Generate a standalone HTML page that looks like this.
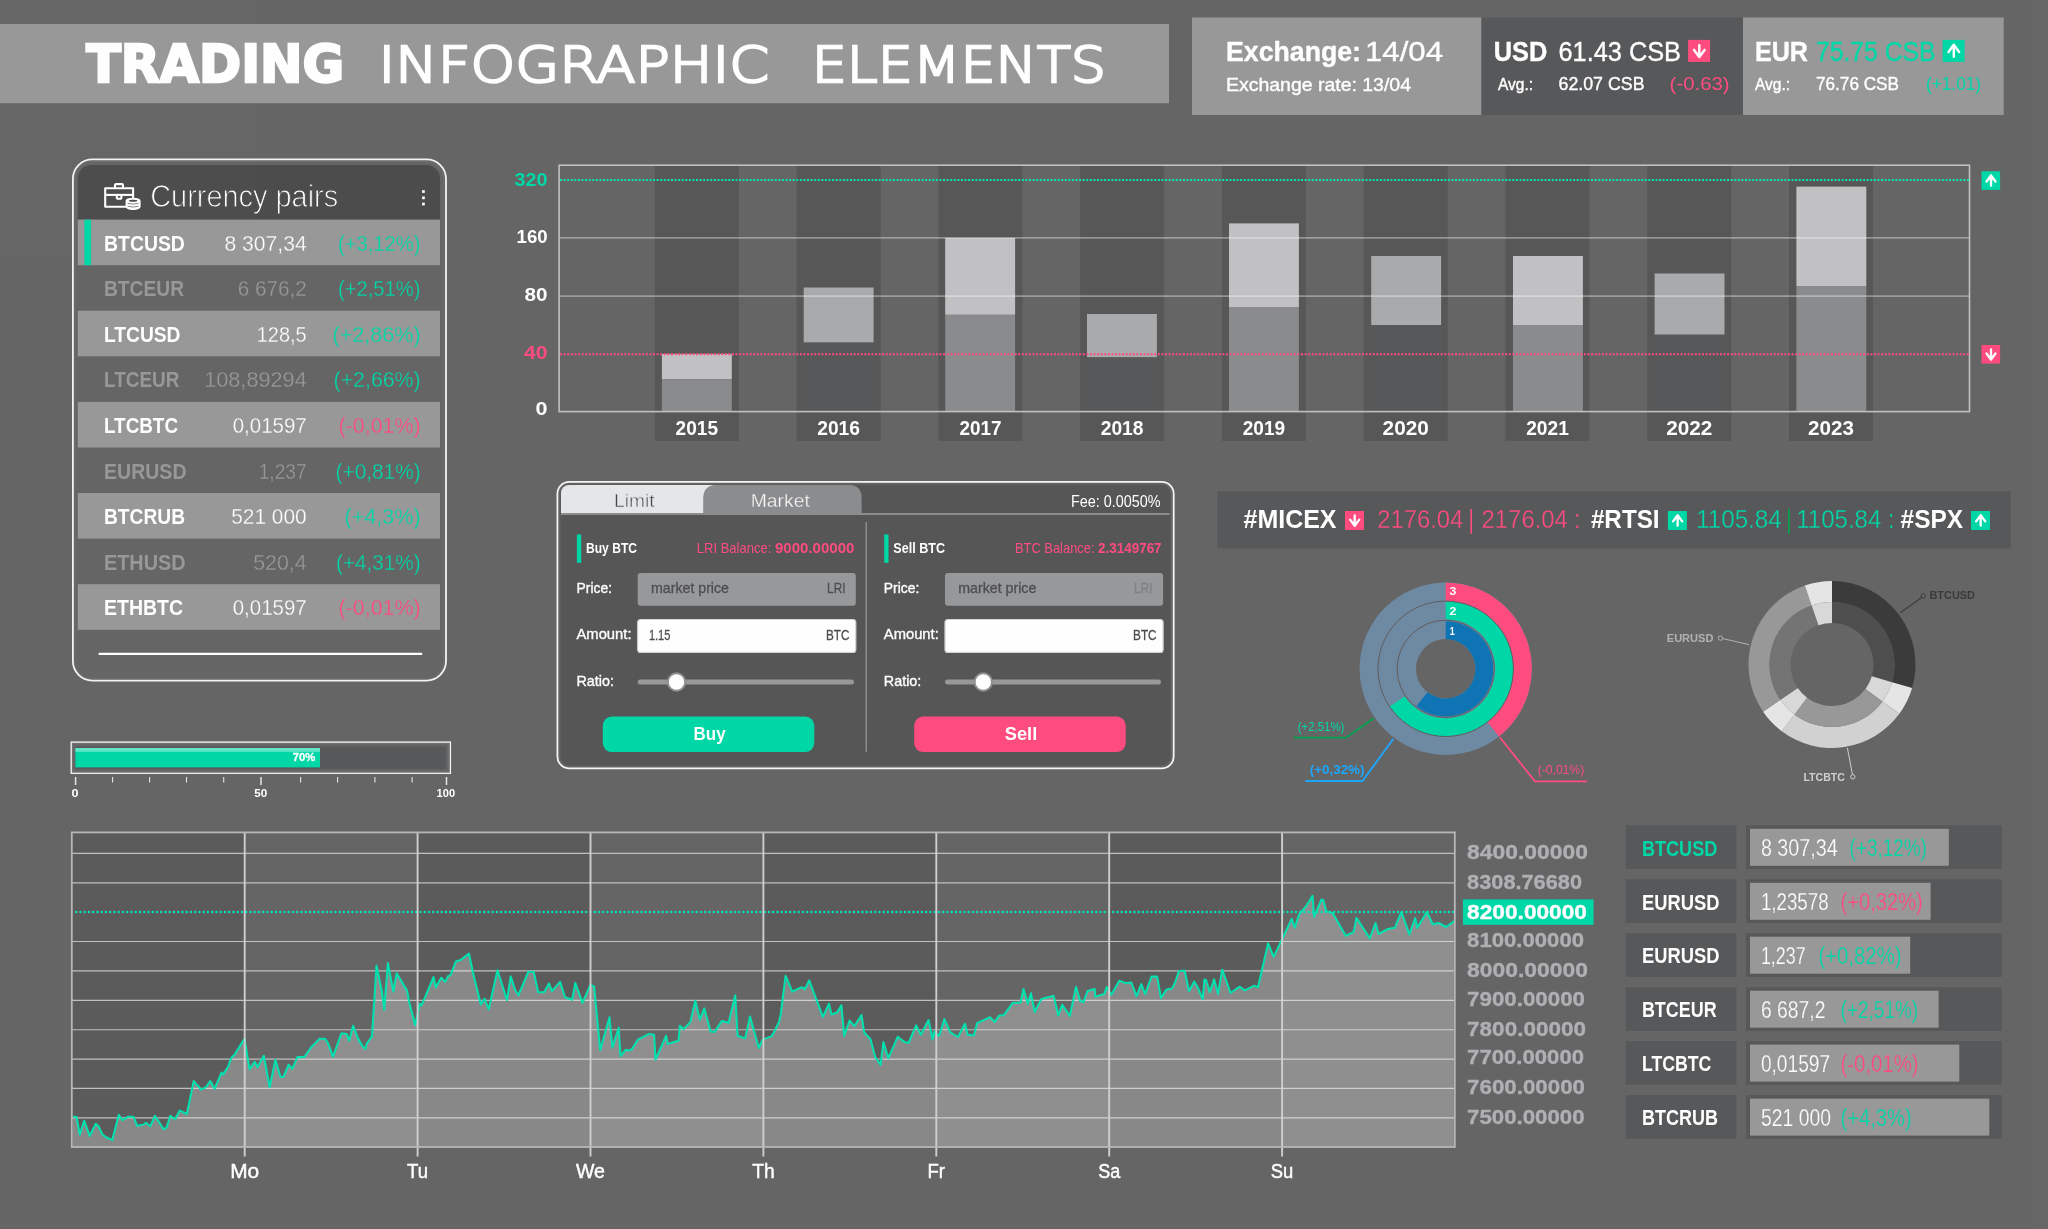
<!DOCTYPE html>
<html lang="en"><head><meta charset="utf-8"><title>Trading Infographic Elements</title>
<style>
html,body{margin:0;padding:0;background:#666666;overflow:hidden}
svg{display:block;opacity:0.9999;will-change:transform}
.l{font-family:"Liberation Sans",sans-serif}
.d{font-family:"DejaVu Sans","Liberation Sans",sans-serif}
.dl{font-family:"DejaVu Sans Light","DejaVu Sans","Liberation Sans",sans-serif;font-weight:200}
text{white-space:pre}
</style></head><body>
<svg width="2048" height="1229" viewBox="0 0 2048 1229">
<rect width="2048" height="1229" fill="#666666"/>
<g id="header">
<rect x="0.0" y="24.0" width="1169.0" height="79.2" fill="#999999"/>
<text class="d" x="86.2" y="82.0" font-size="51" fill="#fff" font-weight="700" textLength="258.0" lengthAdjust="spacingAndGlyphs" stroke="#fff" stroke-width="2.4">TRADING</text>
<text class="dl" x="378.4" y="82.0" font-size="50.5" fill="#fff" textLength="390.6" lengthAdjust="spacingAndGlyphs" stroke="#fff" stroke-width="2.5">INFOGRAPHIC</text>
<text class="dl" x="811.8" y="82.0" font-size="50.5" fill="#fff" textLength="294.1" lengthAdjust="spacingAndGlyphs" stroke="#fff" stroke-width="2.5">ELEMENTS</text>
<rect x="1192.0" y="17.5" width="289.5" height="97.5" fill="#999999"/>
<rect x="1481.5" y="17.5" width="261.5" height="97.5" fill="#58595b"/>
<rect x="1743.0" y="17.5" width="260.7" height="97.5" fill="#999999"/>
<text class="l" x="1226.0" y="60.6" font-size="28" fill="#fff" font-weight="700" textLength="135.0" lengthAdjust="spacingAndGlyphs" stroke="#fff" stroke-width="0.4">Exchange:</text>
<text class="l" x="1365.0" y="60.6" font-size="28" fill="#fff" textLength="78.0" lengthAdjust="spacingAndGlyphs" stroke="#fff" stroke-width="0.35">14/04</text>
<text class="l" x="1226.0" y="91.0" font-size="19" fill="#fff" textLength="185.0" lengthAdjust="spacingAndGlyphs" stroke="#fff" stroke-width="0.4">Exchange rate: 13/04</text>
<text class="l" x="1493.7" y="60.6" font-size="28" fill="#fff" font-weight="700" textLength="53.5" lengthAdjust="spacingAndGlyphs" stroke="#fff" stroke-width="0.4">USD</text>
<text class="l" x="1558.5" y="60.6" font-size="28" fill="#fff" textLength="122.5" lengthAdjust="spacingAndGlyphs" stroke="#fff" stroke-width="0.35">61.43 CSB</text>
<rect x="1688.1" y="39.9" width="22.0" height="22.0" fill="#ff4d80"/>
<path d="M1699.30 45.10V56.90M1694.00 49.90L1699.30 57.00L1704.60 49.90" fill="none" stroke="#fff" stroke-width="2.45" stroke-linecap="round" stroke-linejoin="round"/>
<text class="l" x="1498.0" y="90.3" font-size="16" fill="#fff" textLength="35.0" lengthAdjust="spacingAndGlyphs" stroke="#fff" stroke-width="0.4">Avg.:</text>
<text class="l" x="1558.5" y="90.3" font-size="19" fill="#fff" textLength="86.0" lengthAdjust="spacingAndGlyphs" stroke="#fff" stroke-width="0.4">62.07 CSB</text>
<text class="l" x="1669.6" y="90.3" font-size="19" fill="#ff4d80" textLength="60.0" lengthAdjust="spacingAndGlyphs">(-0.63)</text>
<text class="l" x="1755.0" y="60.6" font-size="28" fill="#fff" font-weight="700" textLength="53.0" lengthAdjust="spacingAndGlyphs" stroke="#fff" stroke-width="0.4">EUR</text>
<text class="l" x="1816.0" y="60.6" font-size="28" fill="#00d8a8" textLength="119.5" lengthAdjust="spacingAndGlyphs" stroke="#00d8a8" stroke-width="0.35">75.75 CSB</text>
<rect x="1942.6" y="39.9" width="22.0" height="22.0" fill="#00d8a8"/>
<path d="M1953.80 56.70V44.90M1948.50 51.90L1953.80 44.80L1959.10 51.90" fill="none" stroke="#fff" stroke-width="2.45" stroke-linecap="round" stroke-linejoin="round"/>
<text class="l" x="1755.0" y="90.3" font-size="16" fill="#fff" textLength="35.0" lengthAdjust="spacingAndGlyphs" stroke="#fff" stroke-width="0.4">Avg.:</text>
<text class="l" x="1816.0" y="90.3" font-size="19" fill="#fff" textLength="83.0" lengthAdjust="spacingAndGlyphs" stroke="#fff" stroke-width="0.4">76.76 CSB</text>
<text class="l" x="1926.0" y="90.3" font-size="19" fill="#00d8a8" textLength="55.0" lengthAdjust="spacingAndGlyphs">(+1.01)</text>
</g>
<g id="pairs">
<path d="M77.8 220V178.5a13.5 13.5 0 0 1 13.5-13.5H426.5a13.5 13.5 0 0 1 13.5 13.5V220Z" fill="#4d4d4d"/>
<rect x="77.8" y="219.6" width="362.2" height="45.6" fill="#999999"/>
<text class="l" x="104.0" y="250.7" font-size="22.4" fill="#ffffff" font-weight="700" textLength="80.9" lengthAdjust="spacingAndGlyphs">BTCUSD</text>
<text class="l" x="306.7" y="250.7" font-size="22.5" fill="#ffffff" text-anchor="end" textLength="82.2" lengthAdjust="spacingAndGlyphs" stroke="#999999" stroke-width="0.28">8 307,34</text>
<text class="l" x="420.6" y="250.7" font-size="22.5" fill="#00d8a8" text-anchor="end" textLength="82.7" lengthAdjust="spacingAndGlyphs" stroke="#999999" stroke-width="0.28">(+3,12%)</text>
<text class="l" x="104.0" y="296.3" font-size="22.4" fill="#999999" font-weight="700" textLength="80.0" lengthAdjust="spacingAndGlyphs">BTCEUR</text>
<text class="l" x="306.7" y="296.3" font-size="22.5" fill="#999999" text-anchor="end" textLength="69.0" lengthAdjust="spacingAndGlyphs" stroke="#666666" stroke-width="0.28">6 676,2</text>
<text class="l" x="420.6" y="296.3" font-size="22.5" fill="#00d8a8" text-anchor="end" textLength="82.7" lengthAdjust="spacingAndGlyphs" stroke="#666666" stroke-width="0.28">(+2,51%)</text>
<rect x="77.8" y="310.7" width="362.2" height="45.6" fill="#999999"/>
<text class="l" x="104.0" y="341.8" font-size="22.4" fill="#ffffff" font-weight="700" textLength="76.5" lengthAdjust="spacingAndGlyphs">LTCUSD</text>
<text class="l" x="306.7" y="341.8" font-size="22.5" fill="#ffffff" text-anchor="end" textLength="50.0" lengthAdjust="spacingAndGlyphs" stroke="#999999" stroke-width="0.28">128,5</text>
<text class="l" x="420.6" y="341.8" font-size="22.5" fill="#00d8a8" text-anchor="end" textLength="88.0" lengthAdjust="spacingAndGlyphs" stroke="#999999" stroke-width="0.28">(+2,86%)</text>
<text class="l" x="104.0" y="387.4" font-size="22.4" fill="#999999" font-weight="700" textLength="75.5" lengthAdjust="spacingAndGlyphs">LTCEUR</text>
<text class="l" x="306.7" y="387.4" font-size="22.5" fill="#999999" text-anchor="end" textLength="102.5" lengthAdjust="spacingAndGlyphs" stroke="#666666" stroke-width="0.28">108,89294</text>
<text class="l" x="420.6" y="387.4" font-size="22.5" fill="#00d8a8" text-anchor="end" textLength="87.0" lengthAdjust="spacingAndGlyphs" stroke="#666666" stroke-width="0.28">(+2,66%)</text>
<rect x="77.8" y="401.9" width="362.2" height="45.6" fill="#999999"/>
<text class="l" x="104.0" y="433.0" font-size="22.4" fill="#ffffff" font-weight="700" textLength="74.0" lengthAdjust="spacingAndGlyphs">LTCBTC</text>
<text class="l" x="306.7" y="433.0" font-size="22.5" fill="#ffffff" text-anchor="end" textLength="74.0" lengthAdjust="spacingAndGlyphs" stroke="#999999" stroke-width="0.28">0,01597</text>
<text class="l" x="420.6" y="433.0" font-size="22.5" fill="#ff4d80" text-anchor="end" textLength="82.0" lengthAdjust="spacingAndGlyphs" stroke="#999999" stroke-width="0.28">(-0,01%)</text>
<text class="l" x="104.0" y="478.6" font-size="22.4" fill="#999999" font-weight="700" textLength="82.5" lengthAdjust="spacingAndGlyphs">EURUSD</text>
<text class="l" x="306.7" y="478.6" font-size="22.5" fill="#999999" text-anchor="end" textLength="48.0" lengthAdjust="spacingAndGlyphs" stroke="#666666" stroke-width="0.28">1,237</text>
<text class="l" x="420.6" y="478.6" font-size="22.5" fill="#00d8a8" text-anchor="end" textLength="85.0" lengthAdjust="spacingAndGlyphs" stroke="#666666" stroke-width="0.28">(+0,81%)</text>
<rect x="77.8" y="493.0" width="362.2" height="45.6" fill="#999999"/>
<text class="l" x="104.0" y="524.1" font-size="22.4" fill="#ffffff" font-weight="700" textLength="81.0" lengthAdjust="spacingAndGlyphs">BTCRUB</text>
<text class="l" x="306.7" y="524.1" font-size="22.5" fill="#ffffff" text-anchor="end" textLength="75.5" lengthAdjust="spacingAndGlyphs" stroke="#999999" stroke-width="0.28">521 000</text>
<text class="l" x="420.6" y="524.1" font-size="22.5" fill="#00d8a8" text-anchor="end" textLength="76.0" lengthAdjust="spacingAndGlyphs" stroke="#999999" stroke-width="0.28">(+4,3%)</text>
<text class="l" x="104.0" y="569.7" font-size="22.4" fill="#999999" font-weight="700" textLength="81.5" lengthAdjust="spacingAndGlyphs">ETHUSD</text>
<text class="l" x="306.7" y="569.7" font-size="22.5" fill="#999999" text-anchor="end" textLength="53.5" lengthAdjust="spacingAndGlyphs" stroke="#666666" stroke-width="0.28">520,4</text>
<text class="l" x="420.6" y="569.7" font-size="22.5" fill="#00d8a8" text-anchor="end" textLength="84.5" lengthAdjust="spacingAndGlyphs" stroke="#666666" stroke-width="0.28">(+4,31%)</text>
<rect x="77.8" y="584.2" width="362.2" height="45.6" fill="#999999"/>
<text class="l" x="104.0" y="615.3" font-size="22.4" fill="#ffffff" font-weight="700" textLength="79.0" lengthAdjust="spacingAndGlyphs">ETHBTC</text>
<text class="l" x="306.7" y="615.3" font-size="22.5" fill="#ffffff" text-anchor="end" textLength="74.0" lengthAdjust="spacingAndGlyphs" stroke="#999999" stroke-width="0.28">0,01597</text>
<text class="l" x="420.6" y="615.3" font-size="22.5" fill="#ff4d80" text-anchor="end" textLength="82.0" lengthAdjust="spacingAndGlyphs" stroke="#999999" stroke-width="0.28">(-0,01%)</text>
<rect x="84.4" y="219.6" width="6.6" height="45.6" fill="#00d8a8"/>
<rect x="72.9" y="159.4" width="373.1" height="521.2" rx="19.5" fill="none" stroke="#f4f4f4" stroke-width="1.8"/>
<rect x="75" y="161.5" width="368.6" height="516.8" rx="17.5" fill="none" stroke="#6f6f6f" stroke-width="1"/>
<path d="M98.6 653.9H422.2" stroke="#fff" stroke-width="2.1"/>
<text class="l" x="150.2" y="207.3" font-size="30.5" fill="#fff" textLength="188.0" lengthAdjust="spacingAndGlyphs" stroke="#4d4d4d" stroke-width="0.95">Currency pairs</text>
<rect x="422.1" y="190.2" width="2.7" height="2.7" fill="#fff"/>
<rect x="422.1" y="196.5" width="2.7" height="2.7" fill="#fff"/>
<rect x="422.1" y="202.7" width="2.7" height="2.7" fill="#fff"/>
<g fill="none" stroke="#fff" stroke-width="2.1" stroke-linejoin="round"><path d="M126.5 206.8H105.2V188.3H133.1V198"/><path d="M115 188.3V185.3a1.2 1.2 0 0 1 1.2-1.2h5.6a1.2 1.2 0 0 1 1.2 1.2V188.3"/><path d="M105.2 194.9H133.1"/><path d="M116.8 194.9V197.6a1.2 1.2 0 0 0 1.2 1.2h2.2a1.2 1.2 0 0 0 1.2-1.2V194.9"/></g><path d="M125.6 200.8V206.5c0 2 3.3 3.5 7.5 3.5s7.5-1.5 7.5-3.5V200.8a7.5 3.1 0 0 0-15 0Z" fill="#fff"/><ellipse cx="133.1" cy="200.8" rx="4.2" ry="1" fill="#4d4d4d"/><path d="M127.6 203.3q5.5 1.7 11 0M127.6 206.2q5.5 1.7 11 0" fill="none" stroke="#6a6a6a" stroke-width="0.8"/>
</g>
<g id="bars">
<rect x="654.8" y="165.5" width="84.0" height="275.4" fill="#585858"/>
<rect x="796.6" y="165.5" width="84.0" height="275.4" fill="#585858"/>
<rect x="938.4" y="165.5" width="84.0" height="275.4" fill="#585858"/>
<rect x="1080.1" y="165.5" width="84.0" height="275.4" fill="#585858"/>
<rect x="1221.9" y="165.5" width="84.0" height="275.4" fill="#585858"/>
<rect x="1363.7" y="165.5" width="84.0" height="275.4" fill="#585858"/>
<rect x="1505.5" y="165.5" width="84.0" height="275.4" fill="#585858"/>
<rect x="1647.3" y="165.5" width="84.0" height="275.4" fill="#585858"/>
<rect x="1789.0" y="165.5" width="84.0" height="275.4" fill="#585858"/>
<rect x="661.9" y="353.9" width="69.9" height="25.4" fill="#c2c2c4"/>
<rect x="661.9" y="379.3" width="69.9" height="31.9" fill="#8b8c8e"/>
<rect x="803.7" y="287.5" width="69.9" height="55.1" fill="#aaabad"/>
<rect x="803.7" y="342.6" width="69.9" height="68.6" fill="#58595b"/>
<rect x="945.2" y="237.9" width="69.9" height="76.9" fill="#c2c2c4"/>
<rect x="945.2" y="314.8" width="69.9" height="96.4" fill="#8b8c8e"/>
<rect x="1087.0" y="314.0" width="69.9" height="43.4" fill="#aaabad"/>
<rect x="1087.0" y="357.4" width="69.9" height="53.8" fill="#58595b"/>
<rect x="1229.0" y="223.4" width="69.9" height="83.6" fill="#c2c2c4"/>
<rect x="1229.0" y="307.0" width="69.9" height="104.2" fill="#8b8c8e"/>
<rect x="1371.2" y="256.0" width="69.9" height="69.0" fill="#aaabad"/>
<rect x="1371.2" y="325.0" width="69.9" height="86.2" fill="#58595b"/>
<rect x="1513.0" y="256.0" width="69.9" height="69.0" fill="#c2c2c4"/>
<rect x="1513.0" y="325.0" width="69.9" height="86.2" fill="#8b8c8e"/>
<rect x="1654.6" y="273.5" width="69.9" height="61.2" fill="#aaabad"/>
<rect x="1654.6" y="334.7" width="69.9" height="76.5" fill="#58595b"/>
<rect x="1796.4" y="186.6" width="69.9" height="99.4" fill="#c2c2c4"/>
<rect x="1796.4" y="286.0" width="69.9" height="125.2" fill="#8b8c8e"/>
<path d="M559 237.9H1969.8M559 296.1H1969.8" stroke="#ffffff" stroke-opacity="0.36" stroke-width="1.7" fill="none"/>
<rect x="559.1" y="165.2" width="1410.4" height="246.4" fill="none" stroke="#c0c1c3" stroke-width="1.6"/>
<path d="M560 180H1969" stroke="#00e8b6" stroke-width="2.1" stroke-dasharray="2 1.58" fill="none"/>
<path d="M560 354.3H1969" stroke="#ff4d80" stroke-width="2.1" stroke-dasharray="2 1.58" fill="none"/>
<text class="l" x="547.6" y="186.0" font-size="18.6" fill="#00d8a8" font-weight="700" text-anchor="end" textLength="33.0" lengthAdjust="spacingAndGlyphs">320</text>
<text class="l" x="547.6" y="243.2" font-size="18.6" fill="#fff" font-weight="700" text-anchor="end" textLength="31.0" lengthAdjust="spacingAndGlyphs">160</text>
<text class="l" x="547.6" y="301.2" font-size="18.6" fill="#fff" font-weight="700" text-anchor="end" textLength="23.0" lengthAdjust="spacingAndGlyphs">80</text>
<text class="l" x="547.6" y="359.2" font-size="18.6" fill="#ff4d80" font-weight="700" text-anchor="end" textLength="23.5" lengthAdjust="spacingAndGlyphs">40</text>
<text class="l" x="547.6" y="415.0" font-size="18.6" fill="#fff" font-weight="700" text-anchor="end" textLength="12.0" lengthAdjust="spacingAndGlyphs">0</text>
<text class="l" x="696.8" y="435.3" font-size="20" fill="#fff" font-weight="700" text-anchor="middle" textLength="42.4" lengthAdjust="spacingAndGlyphs">2015</text>
<text class="l" x="838.6" y="435.3" font-size="20" fill="#fff" font-weight="700" text-anchor="middle" textLength="42.8" lengthAdjust="spacingAndGlyphs">2016</text>
<text class="l" x="980.4" y="435.3" font-size="20" fill="#fff" font-weight="700" text-anchor="middle" textLength="42.0" lengthAdjust="spacingAndGlyphs">2017</text>
<text class="l" x="1122.1" y="435.3" font-size="20" fill="#fff" font-weight="700" text-anchor="middle" textLength="42.8" lengthAdjust="spacingAndGlyphs">2018</text>
<text class="l" x="1263.9" y="435.3" font-size="20" fill="#fff" font-weight="700" text-anchor="middle" textLength="42.4" lengthAdjust="spacingAndGlyphs">2019</text>
<text class="l" x="1405.7" y="435.3" font-size="20" fill="#fff" font-weight="700" text-anchor="middle" textLength="46.2" lengthAdjust="spacingAndGlyphs">2020</text>
<text class="l" x="1547.5" y="435.3" font-size="20" fill="#fff" font-weight="700" text-anchor="middle" textLength="42.7" lengthAdjust="spacingAndGlyphs">2021</text>
<text class="l" x="1689.3" y="435.3" font-size="20" fill="#fff" font-weight="700" text-anchor="middle" textLength="46.2" lengthAdjust="spacingAndGlyphs">2022</text>
<text class="l" x="1831.0" y="435.3" font-size="20" fill="#fff" font-weight="700" text-anchor="middle" textLength="45.8" lengthAdjust="spacingAndGlyphs">2023</text>
<rect x="1981.5" y="171.3" width="18.6" height="18.6" fill="#00d8a8"/>
<path d="M1991.00 185.50V175.53M1986.52 181.45L1991.00 175.44L1995.48 181.45" fill="none" stroke="#fff" stroke-width="2.35" stroke-linecap="round" stroke-linejoin="round"/>
<rect x="1981.5" y="345.0" width="18.6" height="18.6" fill="#ff4d80"/>
<path d="M1991.00 349.40V359.37M1986.52 353.45L1991.00 359.46L1995.48 353.45" fill="none" stroke="#fff" stroke-width="2.35" stroke-linecap="round" stroke-linejoin="round"/>
</g>
<g id="trade">
<rect x="557.4" y="481.8" width="616.3" height="286.6" rx="12" fill="#666666" stroke="#f6f6f6" stroke-width="1.75"/>
<rect x="560.4" y="484.6" width="610.1" height="281" rx="9" fill="#575757"/>
<path d="M561 513.5V493a8 8 0 0 1 8-8H718V513.5Z" fill="#e6e7e8"/>
<path d="M703.2 513.5V498c0-8 5-13 12-13H850c6.5 0 11.6 4.5 11.6 12V513.5Z" fill="#8c8d8f"/>
<path d="M561 514H1169.5" stroke="#8c8d8f" stroke-width="2.1"/>
<text class="l" x="634.3" y="507.0" font-size="18.4" fill="#48494b" text-anchor="middle" textLength="40.5" lengthAdjust="spacingAndGlyphs" stroke="#e6e7e8" stroke-width="0.45">Limit</text>
<text class="l" x="780.3" y="507.0" font-size="18.4" fill="#fff" text-anchor="middle" textLength="59.0" lengthAdjust="spacingAndGlyphs" stroke="#8c8d8f" stroke-width="0.35">Market</text>
<text class="l" x="1160.6" y="507.2" font-size="16.4" fill="#fff" text-anchor="end" textLength="89.5" lengthAdjust="spacingAndGlyphs">Fee: 0.0050%</text>
<path d="M866.2 522V751.8" stroke="#9a9a9a" stroke-width="1.2"/>
<rect x="576.9" y="534.4" width="4.3" height="28.4" fill="#00d8a8"/>
<text class="l" x="586.0" y="553.2" font-size="14.6" fill="#fff" font-weight="700" textLength="51.0" lengthAdjust="spacingAndGlyphs">Buy BTC</text>
<text class="l" x="696.8" y="553.2" font-size="14.4" fill="#ff4d80" textLength="74.5" lengthAdjust="spacingAndGlyphs">LRI Balance:</text>
<text class="l" x="774.9" y="553.2" font-size="14.4" fill="#ff4d80" font-weight="700" textLength="79.5" lengthAdjust="spacingAndGlyphs">9000.00000</text>
<text class="l" x="576.5" y="592.8" font-size="14.6" fill="#fff" textLength="35.5" lengthAdjust="spacingAndGlyphs" stroke="#fff" stroke-width="0.35">Price:</text>
<text class="l" x="576.5" y="638.8" font-size="14.6" fill="#fff" textLength="55.0" lengthAdjust="spacingAndGlyphs" stroke="#fff" stroke-width="0.35">Amount:</text>
<text class="l" x="576.5" y="685.8" font-size="14.6" fill="#fff" textLength="37.5" lengthAdjust="spacingAndGlyphs" stroke="#fff" stroke-width="0.35">Ratio:</text>
<rect x="637.7" y="573.0" width="218.1" height="32.8" fill="#98999b" rx="3"/>
<text class="l" x="651.0" y="593.4" font-size="14.4" fill="#4e4f51" textLength="78.0" lengthAdjust="spacingAndGlyphs" stroke="#4e4f51" stroke-width="0.3">market price</text>
<text class="l" x="845.6" y="593.4" font-size="14.4" fill="#4e4f51" text-anchor="end" textLength="18.5" lengthAdjust="spacingAndGlyphs" stroke="#4e4f51" stroke-width="0.3">LRI</text>
<rect x="637.7" y="619.5" width="218.1" height="32.9" rx="3" fill="#ffffff" stroke="#d6d6d6" stroke-width="1.2"/>
<text class="l" x="648.9" y="640.2" font-size="14.4" fill="#4e4f51" textLength="21.5" lengthAdjust="spacingAndGlyphs" stroke="#4e4f51" stroke-width="0.3">1.15</text>
<text class="l" x="849.4" y="640.2" font-size="14.4" fill="#4e4f51" text-anchor="end" textLength="23.5" lengthAdjust="spacingAndGlyphs" stroke="#4e4f51" stroke-width="0.3">BTC</text>
<rect x="637.7" y="679.5" width="216.3" height="5.0" fill="#98999b" rx="2.5"/>
<circle cx="676.5" cy="682" r="8.7" fill="#ffffff" stroke="#8f9092" stroke-width="2"/>
<rect x="602.8" y="716.6" width="211.5" height="35.5" fill="#00d8a8" rx="9"/>
<text class="l" x="709.6" y="739.9" font-size="18" fill="#fff" font-weight="700" text-anchor="middle" textLength="32.0" lengthAdjust="spacingAndGlyphs">Buy</text>
<rect x="884.2" y="534.4" width="4.3" height="28.4" fill="#00d8a8"/>
<text class="l" x="893.3" y="553.2" font-size="14.6" fill="#fff" font-weight="700" textLength="51.8" lengthAdjust="spacingAndGlyphs">Sell BTC</text>
<text class="l" x="1015.0" y="553.2" font-size="14.4" fill="#ff4d80" textLength="79.5" lengthAdjust="spacingAndGlyphs">BTC Balance:</text>
<text class="l" x="1098.1" y="553.2" font-size="14.4" fill="#ff4d80" font-weight="700" textLength="63.5" lengthAdjust="spacingAndGlyphs">2.3149767</text>
<text class="l" x="883.8" y="592.8" font-size="14.6" fill="#fff" textLength="35.5" lengthAdjust="spacingAndGlyphs" stroke="#fff" stroke-width="0.35">Price:</text>
<text class="l" x="883.8" y="638.8" font-size="14.6" fill="#fff" textLength="55.0" lengthAdjust="spacingAndGlyphs" stroke="#fff" stroke-width="0.35">Amount:</text>
<text class="l" x="883.8" y="685.8" font-size="14.6" fill="#fff" textLength="37.5" lengthAdjust="spacingAndGlyphs" stroke="#fff" stroke-width="0.35">Ratio:</text>
<rect x="945.0" y="573.0" width="218.1" height="32.8" fill="#98999b" rx="3"/>
<text class="l" x="958.3" y="593.4" font-size="14.4" fill="#4e4f51" textLength="78.0" lengthAdjust="spacingAndGlyphs" stroke="#4e4f51" stroke-width="0.3">market price</text>
<text class="l" x="1152.5" y="593.4" font-size="14.4" fill="#818284" text-anchor="end" textLength="18.5" lengthAdjust="spacingAndGlyphs" stroke="#818284" stroke-width="0.3">LRI</text>
<rect x="945.0" y="619.5" width="218.1" height="32.9" rx="3" fill="#ffffff" stroke="#d6d6d6" stroke-width="1.2"/>
<text class="l" x="1156.6" y="640.2" font-size="14.4" fill="#4e4f51" text-anchor="end" textLength="23.5" lengthAdjust="spacingAndGlyphs" stroke="#4e4f51" stroke-width="0.3">BTC</text>
<rect x="945.0" y="679.5" width="216.0" height="5.0" fill="#98999b" rx="2.5"/>
<circle cx="983.3" cy="682" r="8.7" fill="#ffffff" stroke="#8f9092" stroke-width="2"/>
<rect x="914.2" y="716.6" width="211.5" height="35.5" fill="#ff4d80" rx="9"/>
<text class="l" x="1021.0" y="739.9" font-size="18" fill="#fff" font-weight="700" text-anchor="middle" textLength="32.5" lengthAdjust="spacingAndGlyphs">Sell</text>
</g>
<g id="ticker">
<rect x="1217.4" y="491.2" width="793.4" height="57.1" fill="#58595b"/>
<text class="l" x="1243.5" y="528.4" font-size="25" fill="#fff" font-weight="700" textLength="93.0" lengthAdjust="spacingAndGlyphs">#MICEX</text>
<rect x="1345.0" y="511.0" width="19.0" height="19.0" fill="#ff4d80"/>
<path d="M1354.70 515.49V525.68M1350.12 519.64L1354.70 525.77L1359.28 519.64" fill="none" stroke="#fff" stroke-width="2.35" stroke-linecap="round" stroke-linejoin="round"/>
<text class="l" x="1377.2" y="528.4" font-size="25" fill="#ff4d80" textLength="86.2" lengthAdjust="spacingAndGlyphs" stroke="#58595b" stroke-width="0.3">2176.04</text>
<path d="M1471.2 509V533.8" stroke="#ff4d80" stroke-width="1.6"/>
<text class="l" x="1481.6" y="528.4" font-size="25" fill="#ff4d80" textLength="86.2" lengthAdjust="spacingAndGlyphs" stroke="#58595b" stroke-width="0.3">2176.04</text>
<text class="l" x="1574.5" y="528.4" font-size="25" fill="#ff4d80" textLength="5.5" lengthAdjust="spacingAndGlyphs">:</text>
<text class="l" x="1590.9" y="528.4" font-size="25" fill="#fff" font-weight="700" textLength="68.7" lengthAdjust="spacingAndGlyphs">#RTSI</text>
<rect x="1667.9" y="511.0" width="19.0" height="19.0" fill="#00d8a8"/>
<path d="M1677.60 525.51V515.32M1673.02 521.36L1677.60 515.23L1682.18 521.36" fill="none" stroke="#fff" stroke-width="2.35" stroke-linecap="round" stroke-linejoin="round"/>
<text class="l" x="1696.0" y="528.4" font-size="25" fill="#00d8a8" textLength="85.8" lengthAdjust="spacingAndGlyphs" stroke="#58595b" stroke-width="0.3">1105.84</text>
<path d="M1788.8 509V533.8" stroke="#00a651" stroke-width="1.6"/>
<text class="l" x="1796.3" y="528.4" font-size="25" fill="#00d8a8" textLength="85.0" lengthAdjust="spacingAndGlyphs" stroke="#58595b" stroke-width="0.3">1105.84</text>
<text class="l" x="1888.4" y="528.4" font-size="25" fill="#00d8a8" textLength="5.5" lengthAdjust="spacingAndGlyphs">:</text>
<text class="l" x="1900.6" y="528.4" font-size="25" fill="#fff" font-weight="700" textLength="62.5" lengthAdjust="spacingAndGlyphs">#SPX</text>
<rect x="1971.0" y="511.0" width="19.0" height="19.0" fill="#00d8a8"/>
<path d="M1980.70 525.51V515.32M1976.12 521.36L1980.70 515.23L1985.28 521.36" fill="none" stroke="#fff" stroke-width="2.35" stroke-linecap="round" stroke-linejoin="round"/>
</g>
<g id="donut1">
<path d="M1359.60 668.80a86.1 86.1 0 1 0 172.2 0a86.1 86.1 0 1 0 -172.2 0ZM1416.00 668.80a29.7 29.7 0 1 1 59.4 0a29.7 29.7 0 1 1 -59.4 0Z" fill="#6f8ba3" fill-rule="evenodd"/>
<path d="M1445.70 582.70A86.1 86.1 0 0 1 1498.94 736.46L1487.69 722.16A67.9 67.9 0 0 0 1445.70 600.90Z" fill="#ff4d80"/>
<path d="M1445.70 601.30A67.5 67.5 0 1 1 1389.74 706.55L1404.58 696.54A49.6 49.6 0 1 0 1445.70 619.20Z" fill="#00d8a8"/>
<path d="M1445.70 621.20A47.6 47.6 0 1 1 1416.39 706.31L1427.41 692.20A29.7 29.7 0 1 0 1445.70 639.10Z" fill="#0f75b5"/>
<circle cx="1445.7" cy="668.8" r="48.6" fill="none" stroke="#5f5b5b" stroke-width="0.95"/>
<circle cx="1445.7" cy="668.8" r="67.7" fill="none" stroke="#5f5b5b" stroke-width="0.95"/>
<text class="l" x="1449.6" y="594.8" font-size="11.8" fill="#fff" font-weight="700" textLength="6.8" lengthAdjust="spacingAndGlyphs">3</text>
<text class="l" x="1449.6" y="614.8" font-size="11.8" fill="#fff" font-weight="700" textLength="6.8" lengthAdjust="spacingAndGlyphs">2</text>
<text class="l" x="1449.8" y="635.0" font-size="11.8" fill="#fff" font-weight="700" textLength="5.0" lengthAdjust="spacingAndGlyphs">1</text>
<path d="M1293.6 737.7H1345.9L1373.6 718.6" fill="none" stroke="#00a651" stroke-width="1.8"/>
<text class="l" x="1297.7" y="730.8" font-size="12.8" fill="#00d8a8" textLength="46.7" lengthAdjust="spacingAndGlyphs">(+2,51%)</text>
<path d="M1305.3 781H1362.5L1393.4 738.7" fill="none" stroke="#1ea7ff" stroke-width="1.9"/>
<text class="l" x="1309.8" y="774.2" font-size="13" fill="#1ea7ff" font-weight="700" textLength="54.7" lengthAdjust="spacingAndGlyphs">(+0,32%)</text>
<path d="M1587 781.4H1535L1499.8 737.3" fill="none" stroke="#ff4d80" stroke-width="1.8"/>
<text class="l" x="1537.7" y="774.2" font-size="12.8" fill="#ff4d80" textLength="46.5" lengthAdjust="spacingAndGlyphs">(-0,01%)</text>
</g>
<g id="donut2">
<path d="M1832.00 581.00A83.5 83.5 0 0 1 1912.10 688.08L1891.96 682.15A62.5 62.5 0 0 0 1832.00 602.00Z" fill="#3c3c3c"/>
<path d="M1832.00 602.00A62.5 62.5 0 0 1 1891.96 682.15L1871.81 676.22A41.5 41.5 0 0 0 1832.00 623.00Z" fill="#4f4f4f"/>
<path d="M1912.10 688.08A83.5 83.5 0 0 1 1899.38 713.82L1882.44 701.41A62.5 62.5 0 0 0 1891.96 682.15Z" fill="#e6e6e6"/>
<path d="M1891.96 682.15A62.5 62.5 0 0 1 1882.44 701.41L1865.49 689.01A41.5 41.5 0 0 0 1871.81 676.22Z" fill="#d9d9d9"/>
<path d="M1899.38 713.82A83.5 83.5 0 0 1 1781.75 731.19L1794.39 714.41A62.5 62.5 0 0 0 1882.44 701.41Z" fill="#d2d2d2"/>
<path d="M1882.44 701.41A62.5 62.5 0 0 1 1794.39 714.41L1807.02 697.64A41.5 41.5 0 0 0 1865.49 689.01Z" fill="#999999"/>
<path d="M1781.75 731.19A83.5 83.5 0 0 1 1763.10 711.67L1780.43 699.81A62.5 62.5 0 0 0 1794.39 714.41Z" fill="#e6e6e6"/>
<path d="M1794.39 714.41A62.5 62.5 0 0 1 1780.43 699.81L1797.76 687.95A41.5 41.5 0 0 0 1807.02 697.64Z" fill="#d9d9d9"/>
<path d="M1763.10 711.67A83.5 83.5 0 0 1 1804.82 585.55L1811.65 605.41A62.5 62.5 0 0 0 1780.43 699.81Z" fill="#999999"/>
<path d="M1780.43 699.81A62.5 62.5 0 0 1 1811.65 605.41L1818.49 625.26A41.5 41.5 0 0 0 1797.76 687.95Z" fill="#757575"/>
<path d="M1804.82 585.55A83.5 83.5 0 0 1 1832.00 581.00L1832.00 602.00A62.5 62.5 0 0 0 1811.65 605.41Z" fill="#e6e6e6"/>
<path d="M1811.65 605.41A62.5 62.5 0 0 1 1832.00 602.00L1832.00 623.00A41.5 41.5 0 0 0 1818.49 625.26Z" fill="#d9d9d9"/>
<path d="M1922 597.2L1900.3 612.7" stroke="#3c3c3c" stroke-width="1.1"/>
<circle cx="1923.2" cy="595.9" r="2.2" fill="#666" stroke="#3c3c3c" stroke-width="1"/>
<text class="l" x="1929.4" y="599.0" font-size="11.2" fill="#3c3c3c" font-weight="700" textLength="45.6" lengthAdjust="spacingAndGlyphs">BTCUSD</text>
<path d="M1722.5 638.5L1749 644.6" stroke="#b3b3b3" stroke-width="1"/>
<circle cx="1720.5" cy="638.1" r="2.2" fill="#666" stroke="#b3b3b3" stroke-width="1"/>
<text class="l" x="1666.8" y="642.0" font-size="11.2" fill="#b3b3b3" font-weight="700" textLength="46.6" lengthAdjust="spacingAndGlyphs">EURUSD</text>
<path d="M1852.5 774.7L1847.4 747.9" stroke="#d0d0d0" stroke-width="1"/>
<circle cx="1852.8" cy="776.8" r="2.2" fill="#666" stroke="#d0d0d0" stroke-width="1"/>
<text class="l" x="1803.4" y="780.7" font-size="11.2" fill="#d0d0d0" font-weight="700" textLength="41.6" lengthAdjust="spacingAndGlyphs">LTCBTC</text>
</g>
<g id="progress">
<rect x="71.2" y="742.1" width="379.2" height="31.2" fill="#666666" stroke="#f4f4f4" stroke-width="1.35"/>
<rect x="72.7" y="743.6" width="376.2" height="28.2" fill="none" stroke="#787878" stroke-width="0.9"/>
<rect x="75.4" y="746.6" width="370.6" height="22.4" fill="#58595b"/>
<rect x="75.4" y="748.0" width="244.6" height="19.4" fill="#00d8a8"/>
<rect x="75.4" y="748.0" width="244.6" height="3.8" fill="#5fe6c9"/>
<text class="l" x="315.3" y="761.0" font-size="11" fill="#fff" font-weight="700" text-anchor="end" textLength="22.5" lengthAdjust="spacingAndGlyphs" stroke="#fff" stroke-width="0.3">70%</text>
<path d="M75.6 777V785" stroke="#e6e6e6" stroke-width="1.5"/>
<path d="M112.6 777V782.5" stroke="#e6e6e6" stroke-width="1.1"/>
<path d="M149.6 777V782.5" stroke="#e6e6e6" stroke-width="1.1"/>
<path d="M186.5 777V782.5" stroke="#e6e6e6" stroke-width="1.1"/>
<path d="M223.7 777V782.5" stroke="#e6e6e6" stroke-width="1.1"/>
<path d="M261.0 777V785" stroke="#e6e6e6" stroke-width="1.5"/>
<path d="M300.6 777V782.5" stroke="#e6e6e6" stroke-width="1.1"/>
<path d="M337.6 777V782.5" stroke="#e6e6e6" stroke-width="1.1"/>
<path d="M374.9 777V782.5" stroke="#e6e6e6" stroke-width="1.1"/>
<path d="M412.1 777V782.5" stroke="#e6e6e6" stroke-width="1.1"/>
<path d="M446.5 777V785" stroke="#e6e6e6" stroke-width="1.5"/>
<text class="l" x="75.0" y="796.7" font-size="10.8" fill="#fff" font-weight="700" text-anchor="middle" textLength="7.0" lengthAdjust="spacingAndGlyphs">0</text>
<text class="l" x="260.8" y="796.7" font-size="10.8" fill="#fff" font-weight="700" text-anchor="middle" textLength="13.0" lengthAdjust="spacingAndGlyphs">50</text>
<text class="l" x="445.8" y="796.7" font-size="10.8" fill="#fff" font-weight="700" text-anchor="middle" textLength="18.5" lengthAdjust="spacingAndGlyphs">100</text>
</g>
<g id="linechart">
<rect x="71.8" y="832.4" width="172.9" height="314.6" fill="#5c5c5c"/>
<rect x="417.6" y="832.4" width="172.9" height="314.6" fill="#5c5c5c"/>
<rect x="763.4" y="832.4" width="172.9" height="314.6" fill="#5c5c5c"/>
<rect x="1109.2" y="832.4" width="172.9" height="314.6" fill="#5c5c5c"/>
<path d="M71.8 853.4H1454.8M71.8 882.8H1454.8M71.8 941.5H1454.8M71.8 970.9H1454.8M71.8 1000.3H1454.8M71.8 1029.7H1454.8M71.8 1059.1H1454.8M71.8 1088.4H1454.8M71.8 1117.8H1454.8" stroke="#c0c0c0" stroke-width="1.15" fill="none"/>
<polygon points="72.8,1147 73.1,1116.7 76.5,1116.7 79.8,1134.6 84.2,1120.8 89.7,1136.0 95.8,1123.8 98.5,1126.3 102.1,1134.0 105.6,1137.0 112.3,1140.1 118.8,1114.7 122.5,1120.2 128.0,1116.7 133.5,1116.7 137.1,1125.8 143.2,1124.8 145.9,1122.8 150.3,1126.3 155.0,1115.7 163.6,1129.3 166.6,1127.5 170.3,1115.7 175.1,1119.3 179.8,1110.6 186.9,1114.0 193.7,1081.1 201.2,1089.6 205.9,1087.2 210.3,1081.1 214.6,1088.8 221.5,1072.6 223.1,1074.6 228.2,1066.5 231.1,1058.3 232.7,1056.3 234.3,1055.1 244.5,1038.8 249.6,1069.3 254.7,1061.8 257.5,1067.3 263.8,1055.7 269.7,1087.2 275.4,1059.7 280.5,1077.0 283.5,1077.0 288.6,1064.8 292.3,1068.9 297.4,1057.1 304.3,1057.1 311.0,1047.5 319.7,1038.8 325.2,1038.8 328.3,1044.1 333.0,1056.7 341.5,1033.3 346.6,1033.9 349.2,1040.8 353.1,1025.8 358.4,1039.4 362.5,1046.1 365.3,1049.0 366.9,1043.5 372.0,1036.4 376.5,965.6 381.8,991.2 384.2,1009.9 387.9,963.1 393.4,991.6 396.6,973.3 407.0,990.6 409.6,1003.8 415.1,1025.2 419.8,1003.8 421.4,1005.4 424.9,997.7 433.6,977.0 435.7,987.6 441.2,977.8 445.2,981.9 447.9,976.4 450.7,974.9 455.8,961.5 460.5,960.1 469.0,953.6 473.1,973.3 480.8,1004.4 484.6,998.7 488.7,1009.5 497.5,970.3 507.0,1000.2 510.7,976.4 515.1,990.0 518.4,995.3 528.4,971.7 533.7,971.7 538.1,992.2 544.2,992.2 548.9,983.5 552.0,991.2 560.1,981.9 565.0,997.3 572.1,999.8 575.3,982.9 582.5,1002.8 590.4,984.9 594.1,986.5 600.2,1050.2 609.5,1017.2 612.4,1047.5 618.7,1027.8 620.5,1056.1 625.6,1049.8 628.6,1050.6 631.7,1049.6 638.0,1039.6 649.0,1033.9 654.1,1034.7 655.5,1059.7 666.1,1035.8 667.7,1044.1 678.5,1040.8 679.9,1025.8 683.5,1029.2 690.3,1022.1 695.3,1000.8 699.8,1019.7 704.3,1008.5 710.6,1031.5 714.7,1031.9 721.8,1021.1 728.7,1022.7 735.2,995.3 737.6,1035.8 745.2,1038.4 750.0,1016.6 758.8,1048.0 762.9,1039.4 771.4,1036.4 775.1,1029.9 779.1,1021.7 780.6,1015.0 785.6,975.8 792.3,991.6 800.5,987.6 803.5,987.6 804.8,989.6 809.2,980.4 822.9,1017.0 829.0,1003.8 831.4,1014.4 837.1,1012.6 841.4,1005.4 844.2,1035.8 849.5,1020.5 854.4,1026.2 861.5,1015.0 864.1,1032.3 870.6,1039.4 875.1,1056.7 875.7,1057.7 880.6,1064.8 883.4,1042.1 888.3,1058.3 897.7,1036.8 904.6,1042.1 908.6,1042.9 916.2,1025.4 920.8,1034.7 928.6,1020.1 932.6,1039.4 934.3,1031.5 939.1,1036.0 944.4,1019.1 950.3,1032.3 957.9,1037.0 965.0,1023.8 967.6,1034.7 973.9,1035.5 977.2,1023.1 990.0,1017.2 994.7,1022.1 999.1,1015.6 1003.8,1015.2 1012.8,1002.8 1020.5,1002.8 1023.5,989.0 1027.8,1003.8 1030.9,993.2 1034.7,1012.0 1041.4,998.9 1053.6,995.7 1058.3,1015.4 1062.2,1004.8 1069.9,1016.0 1076.0,986.9 1080.1,1000.8 1083.5,1002.2 1087.6,991.0 1094.7,989.0 1095.3,996.7 1104.3,994.1 1106.7,987.1 1111.4,994.7 1119.3,980.8 1125.8,983.1 1131.3,982.5 1136.6,996.1 1141.3,984.1 1145.2,994.1 1151.5,976.6 1157.2,976.6 1161.0,998.3 1166.3,989.6 1172.0,988.6 1175.1,982.5 1178.9,971.3 1184.6,970.5 1189.1,991.2 1194.2,981.5 1197.8,987.6 1202.7,999.2 1204.4,979.6 1206.0,980.0 1209.8,992.1 1214.1,979.4 1218.1,993.9 1222.2,969.7 1230.6,993.0 1239.6,986.7 1244.7,990.4 1253.7,985.8 1258.0,987.1 1268.1,943.4 1273.7,956.9 1291.7,918.9 1294.8,927.7 1299.0,914.6 1306.1,906.2 1312.5,895.8 1314.1,916.9 1321.5,899.5 1323.3,900.1 1326.2,911.1 1332.9,913.3 1338.3,923.0 1345.7,935.7 1353.7,932.1 1356.4,917.9 1369.8,938.4 1375.5,923.0 1378.6,934.0 1388.0,929.0 1394.9,927.7 1401.4,912.0 1409.4,934.4 1415.2,918.0 1417.2,927.9 1426.9,912.0 1432.7,924.3 1438.7,923.0 1446.0,927.0 1453.8,921.6 1453.8,921.6 1453.8,1147" fill="#ffffff" fill-opacity="0.28"/>
<polyline points="73.1,1116.7 76.5,1116.7 79.8,1134.6 84.2,1120.8 89.7,1136.0 95.8,1123.8 98.5,1126.3 102.1,1134.0 105.6,1137.0 112.3,1140.1 118.8,1114.7 122.5,1120.2 128.0,1116.7 133.5,1116.7 137.1,1125.8 143.2,1124.8 145.9,1122.8 150.3,1126.3 155.0,1115.7 163.6,1129.3 166.6,1127.5 170.3,1115.7 175.1,1119.3 179.8,1110.6 186.9,1114.0 193.7,1081.1 201.2,1089.6 205.9,1087.2 210.3,1081.1 214.6,1088.8 221.5,1072.6 223.1,1074.6 228.2,1066.5 231.1,1058.3 232.7,1056.3 234.3,1055.1 244.5,1038.8 249.6,1069.3 254.7,1061.8 257.5,1067.3 263.8,1055.7 269.7,1087.2 275.4,1059.7 280.5,1077.0 283.5,1077.0 288.6,1064.8 292.3,1068.9 297.4,1057.1 304.3,1057.1 311.0,1047.5 319.7,1038.8 325.2,1038.8 328.3,1044.1 333.0,1056.7 341.5,1033.3 346.6,1033.9 349.2,1040.8 353.1,1025.8 358.4,1039.4 362.5,1046.1 365.3,1049.0 366.9,1043.5 372.0,1036.4 376.5,965.6 381.8,991.2 384.2,1009.9 387.9,963.1 393.4,991.6 396.6,973.3 407.0,990.6 409.6,1003.8 415.1,1025.2 419.8,1003.8 421.4,1005.4 424.9,997.7 433.6,977.0 435.7,987.6 441.2,977.8 445.2,981.9 447.9,976.4 450.7,974.9 455.8,961.5 460.5,960.1 469.0,953.6 473.1,973.3 480.8,1004.4 484.6,998.7 488.7,1009.5 497.5,970.3 507.0,1000.2 510.7,976.4 515.1,990.0 518.4,995.3 528.4,971.7 533.7,971.7 538.1,992.2 544.2,992.2 548.9,983.5 552.0,991.2 560.1,981.9 565.0,997.3 572.1,999.8 575.3,982.9 582.5,1002.8 590.4,984.9 594.1,986.5 600.2,1050.2 609.5,1017.2 612.4,1047.5 618.7,1027.8 620.5,1056.1 625.6,1049.8 628.6,1050.6 631.7,1049.6 638.0,1039.6 649.0,1033.9 654.1,1034.7 655.5,1059.7 666.1,1035.8 667.7,1044.1 678.5,1040.8 679.9,1025.8 683.5,1029.2 690.3,1022.1 695.3,1000.8 699.8,1019.7 704.3,1008.5 710.6,1031.5 714.7,1031.9 721.8,1021.1 728.7,1022.7 735.2,995.3 737.6,1035.8 745.2,1038.4 750.0,1016.6 758.8,1048.0 762.9,1039.4 771.4,1036.4 775.1,1029.9 779.1,1021.7 780.6,1015.0 785.6,975.8 792.3,991.6 800.5,987.6 803.5,987.6 804.8,989.6 809.2,980.4 822.9,1017.0 829.0,1003.8 831.4,1014.4 837.1,1012.6 841.4,1005.4 844.2,1035.8 849.5,1020.5 854.4,1026.2 861.5,1015.0 864.1,1032.3 870.6,1039.4 875.1,1056.7 875.7,1057.7 880.6,1064.8 883.4,1042.1 888.3,1058.3 897.7,1036.8 904.6,1042.1 908.6,1042.9 916.2,1025.4 920.8,1034.7 928.6,1020.1 932.6,1039.4 934.3,1031.5 939.1,1036.0 944.4,1019.1 950.3,1032.3 957.9,1037.0 965.0,1023.8 967.6,1034.7 973.9,1035.5 977.2,1023.1 990.0,1017.2 994.7,1022.1 999.1,1015.6 1003.8,1015.2 1012.8,1002.8 1020.5,1002.8 1023.5,989.0 1027.8,1003.8 1030.9,993.2 1034.7,1012.0 1041.4,998.9 1053.6,995.7 1058.3,1015.4 1062.2,1004.8 1069.9,1016.0 1076.0,986.9 1080.1,1000.8 1083.5,1002.2 1087.6,991.0 1094.7,989.0 1095.3,996.7 1104.3,994.1 1106.7,987.1 1111.4,994.7 1119.3,980.8 1125.8,983.1 1131.3,982.5 1136.6,996.1 1141.3,984.1 1145.2,994.1 1151.5,976.6 1157.2,976.6 1161.0,998.3 1166.3,989.6 1172.0,988.6 1175.1,982.5 1178.9,971.3 1184.6,970.5 1189.1,991.2 1194.2,981.5 1197.8,987.6 1202.7,999.2 1204.4,979.6 1206.0,980.0 1209.8,992.1 1214.1,979.4 1218.1,993.9 1222.2,969.7 1230.6,993.0 1239.6,986.7 1244.7,990.4 1253.7,985.8 1258.0,987.1 1268.1,943.4 1273.7,956.9 1291.7,918.9 1294.8,927.7 1299.0,914.6 1306.1,906.2 1312.5,895.8 1314.1,916.9 1321.5,899.5 1323.3,900.1 1326.2,911.1 1332.9,913.3 1338.3,923.0 1345.7,935.7 1353.7,932.1 1356.4,917.9 1369.8,938.4 1375.5,923.0 1378.6,934.0 1388.0,929.0 1394.9,927.7 1401.4,912.0 1409.4,934.4 1415.2,918.0 1417.2,927.9 1426.9,912.0 1432.7,924.3 1438.7,923.0 1446.0,927.0 1453.8,921.6 1453.8,920.6" fill="none" stroke="#00e2b0" stroke-width="2.05" stroke-linejoin="round"/>
<path d="M76.2 912H1454.8" stroke="#00e8b6" stroke-width="2.4" stroke-dasharray="0.01 4.24" stroke-linecap="round" fill="none"/>
<path d="M244.7 832.4V1156.4M417.6 832.4V1156.4M590.5 832.4V1156.4M763.4 832.4V1156.4M936.3 832.4V1156.4M1109.2 832.4V1156.4M1282.1 832.4V1156.4" stroke="#cfcfcf" stroke-width="1.9" fill="none"/>
<rect x="71.8" y="832.4" width="1383.0" height="314.6" fill="none" stroke="#b8b8b8" stroke-width="1.8"/>
<text class="l" x="244.7" y="1177.8" font-size="19.5" fill="#fff" text-anchor="middle" textLength="29.0" lengthAdjust="spacingAndGlyphs" stroke="#fff" stroke-width="0.45">Mo</text>
<text class="l" x="417.6" y="1177.8" font-size="19.5" fill="#fff" text-anchor="middle" textLength="21.0" lengthAdjust="spacingAndGlyphs" stroke="#fff" stroke-width="0.45">Tu</text>
<text class="l" x="590.5" y="1177.8" font-size="19.5" fill="#fff" text-anchor="middle" textLength="29.0" lengthAdjust="spacingAndGlyphs" stroke="#fff" stroke-width="0.45">We</text>
<text class="l" x="763.4" y="1177.8" font-size="19.5" fill="#fff" text-anchor="middle" textLength="22.5" lengthAdjust="spacingAndGlyphs" stroke="#fff" stroke-width="0.45">Th</text>
<text class="l" x="936.3" y="1177.8" font-size="19.5" fill="#fff" text-anchor="middle" textLength="17.5" lengthAdjust="spacingAndGlyphs" stroke="#fff" stroke-width="0.45">Fr</text>
<text class="l" x="1109.2" y="1177.8" font-size="19.5" fill="#fff" text-anchor="middle" textLength="22.0" lengthAdjust="spacingAndGlyphs" stroke="#fff" stroke-width="0.45">Sa</text>
<text class="l" x="1282.1" y="1177.8" font-size="19.5" fill="#fff" text-anchor="middle" textLength="22.5" lengthAdjust="spacingAndGlyphs" stroke="#fff" stroke-width="0.45">Su</text>
<rect x="1462.9" y="899.4" width="130.7" height="25.4" fill="#00d8a8"/>
<text class="l" x="1467.1" y="859.3" font-size="21" fill="#b0b1b4" font-weight="700" textLength="120.9" lengthAdjust="spacingAndGlyphs" stroke="#b0b1b4" stroke-width="0.35">8400.00000</text>
<text class="l" x="1467.1" y="888.6" font-size="21" fill="#b0b1b4" font-weight="700" textLength="114.9" lengthAdjust="spacingAndGlyphs" stroke="#b0b1b4" stroke-width="0.35">8308.76680</text>
<text class="l" x="1467.1" y="918.9" font-size="21" fill="#fff" font-weight="700" textLength="119.9" lengthAdjust="spacingAndGlyphs" stroke="#fff" stroke-width="0.35">8200.00000</text>
<text class="l" x="1467.1" y="947.4" font-size="21" fill="#b0b1b4" font-weight="700" textLength="116.9" lengthAdjust="spacingAndGlyphs" stroke="#b0b1b4" stroke-width="0.35">8100.00000</text>
<text class="l" x="1467.1" y="976.7" font-size="21" fill="#b0b1b4" font-weight="700" textLength="120.9" lengthAdjust="spacingAndGlyphs" stroke="#b0b1b4" stroke-width="0.35">8000.00000</text>
<text class="l" x="1467.1" y="1006.4" font-size="21" fill="#b0b1b4" font-weight="700" textLength="117.9" lengthAdjust="spacingAndGlyphs" stroke="#b0b1b4" stroke-width="0.35">7900.00000</text>
<text class="l" x="1467.1" y="1035.5" font-size="21" fill="#b0b1b4" font-weight="700" textLength="118.9" lengthAdjust="spacingAndGlyphs" stroke="#b0b1b4" stroke-width="0.35">7800.00000</text>
<text class="l" x="1467.1" y="1064.2" font-size="21" fill="#b0b1b4" font-weight="700" textLength="116.9" lengthAdjust="spacingAndGlyphs" stroke="#b0b1b4" stroke-width="0.35">7700.00000</text>
<text class="l" x="1467.1" y="1093.9" font-size="21" fill="#b0b1b4" font-weight="700" textLength="117.9" lengthAdjust="spacingAndGlyphs" stroke="#b0b1b4" stroke-width="0.35">7600.00000</text>
<text class="l" x="1467.1" y="1123.6" font-size="21" fill="#b0b1b4" font-weight="700" textLength="117.4" lengthAdjust="spacingAndGlyphs" stroke="#b0b1b4" stroke-width="0.35">7500.00000</text>
</g>
<g id="rtable">
<rect x="1625.8" y="825.3" width="110.6" height="43.7" fill="#58595b"/>
<rect x="1746.0" y="825.3" width="255.7" height="43.7" fill="#58595b"/>
<rect x="1750.0" y="828.8" width="198.8" height="37.0" fill="#999999"/>
<text class="l" x="1641.9" y="855.5" font-size="21.8" fill="#00d8a8" font-weight="700" textLength="75.4" lengthAdjust="spacingAndGlyphs">BTCUSD</text>
<text class="l" x="1760.9" y="855.9" font-size="23.3" fill="#fff" textLength="76.9" lengthAdjust="spacingAndGlyphs" stroke="#999999" stroke-width="0.25">8 307,34</text>
<text class="l" x="1849.6" y="855.9" font-size="23.3" fill="#00d8a8" textLength="77.3" lengthAdjust="spacingAndGlyphs" stroke="#999999" stroke-width="0.25">(+3,12%)</text>
<rect x="1625.8" y="879.3" width="110.6" height="43.7" fill="#58595b"/>
<rect x="1746.0" y="879.3" width="255.7" height="43.7" fill="#58595b"/>
<rect x="1750.0" y="882.8" width="180.6" height="37.0" fill="#999999"/>
<text class="l" x="1641.9" y="909.5" font-size="21.8" fill="#fff" font-weight="700" textLength="77.5" lengthAdjust="spacingAndGlyphs">EURUSD</text>
<text class="l" x="1760.9" y="909.9" font-size="23.3" fill="#fff" textLength="67.7" lengthAdjust="spacingAndGlyphs" stroke="#999999" stroke-width="0.25">1,23578</text>
<text class="l" x="1840.6" y="909.9" font-size="23.3" fill="#ff4d80" textLength="82.2" lengthAdjust="spacingAndGlyphs" stroke="#999999" stroke-width="0.25">(+0,32%)</text>
<rect x="1625.8" y="933.2" width="110.6" height="43.7" fill="#58595b"/>
<rect x="1746.0" y="933.2" width="255.7" height="43.7" fill="#58595b"/>
<rect x="1750.0" y="936.7" width="160.2" height="37.0" fill="#999999"/>
<text class="l" x="1641.9" y="963.4" font-size="21.8" fill="#fff" font-weight="700" textLength="77.5" lengthAdjust="spacingAndGlyphs">EURUSD</text>
<text class="l" x="1760.9" y="963.8" font-size="23.3" fill="#fff" textLength="44.8" lengthAdjust="spacingAndGlyphs" stroke="#999999" stroke-width="0.25">1,237</text>
<text class="l" x="1818.4" y="963.8" font-size="23.3" fill="#00d8a8" textLength="83.1" lengthAdjust="spacingAndGlyphs" stroke="#999999" stroke-width="0.25">(+0,82%)</text>
<rect x="1625.8" y="987.2" width="110.6" height="43.7" fill="#58595b"/>
<rect x="1746.0" y="987.2" width="255.7" height="43.7" fill="#58595b"/>
<rect x="1750.0" y="990.7" width="188.6" height="37.0" fill="#999999"/>
<text class="l" x="1641.9" y="1017.4" font-size="21.8" fill="#fff" font-weight="700" textLength="74.8" lengthAdjust="spacingAndGlyphs">BTCEUR</text>
<text class="l" x="1760.9" y="1017.8" font-size="23.3" fill="#fff" textLength="64.6" lengthAdjust="spacingAndGlyphs" stroke="#999999" stroke-width="0.25">6 687,2</text>
<text class="l" x="1840.6" y="1017.8" font-size="23.3" fill="#00d8a8" textLength="77.6" lengthAdjust="spacingAndGlyphs" stroke="#999999" stroke-width="0.25">(+2,51%)</text>
<rect x="1625.8" y="1041.1" width="110.6" height="43.7" fill="#58595b"/>
<rect x="1746.0" y="1041.1" width="255.7" height="43.7" fill="#58595b"/>
<rect x="1750.0" y="1044.6" width="209.3" height="37.0" fill="#999999"/>
<text class="l" x="1641.9" y="1071.3" font-size="21.8" fill="#fff" font-weight="700" textLength="69.5" lengthAdjust="spacingAndGlyphs">LTCBTC</text>
<text class="l" x="1760.9" y="1071.7" font-size="23.3" fill="#fff" textLength="69.2" lengthAdjust="spacingAndGlyphs" stroke="#999999" stroke-width="0.25">0,01597</text>
<text class="l" x="1840.6" y="1071.7" font-size="23.3" fill="#ff4d80" textLength="77.9" lengthAdjust="spacingAndGlyphs" stroke="#999999" stroke-width="0.25">(-0,01%)</text>
<rect x="1625.8" y="1095.1" width="110.6" height="43.7" fill="#58595b"/>
<rect x="1746.0" y="1095.1" width="255.7" height="43.7" fill="#58595b"/>
<rect x="1750.0" y="1098.6" width="239.3" height="37.0" fill="#999999"/>
<text class="l" x="1641.9" y="1125.3" font-size="21.8" fill="#fff" font-weight="700" textLength="76.0" lengthAdjust="spacingAndGlyphs">BTCRUB</text>
<text class="l" x="1760.9" y="1125.7" font-size="23.3" fill="#fff" textLength="70.1" lengthAdjust="spacingAndGlyphs" stroke="#999999" stroke-width="0.25">521 000</text>
<text class="l" x="1840.6" y="1125.7" font-size="23.3" fill="#00d8a8" textLength="71.1" lengthAdjust="spacingAndGlyphs" stroke="#999999" stroke-width="0.25">(+4,3%)</text>
</g>
</svg>
</body></html>
